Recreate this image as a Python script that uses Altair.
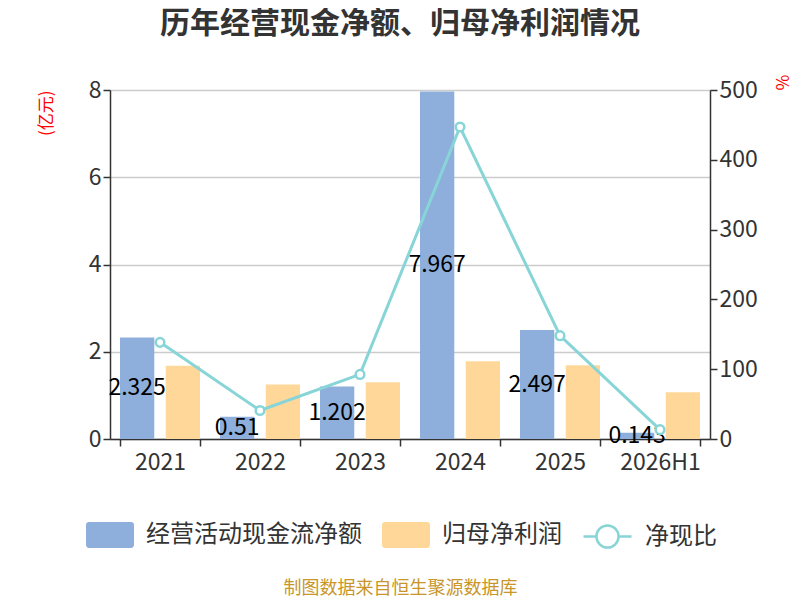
import altair as alt
import pandas as pd

years = ["2021", "2022", "2023", "2024", "2025", "2026H1"]
cash_flow = [2.325, 0.51, 1.202, 7.967, 2.497, 0.143]
net_profit = [1.68, 1.25, 1.30, 1.78, 1.69, 1.07]
ratio = [138.5, 40.8, 92.5, 447.0, 148.0, 13.4]

S1 = "经营活动现金流净额"
S2 = "归母净利润"
S3 = "净现比"

rows = []
for y, c, p in zip(years, cash_flow, net_profit):
    rows.append({"year": y, "series": S1, "value": c})
    rows.append({"year": y, "series": S2, "value": p})
bars_df = pd.DataFrame(rows)
lab_df = pd.DataFrame({"year": years, "series": [S1] * len(years), "value": cash_flow,
                       "label": [f"{v:g}" for v in cash_flow]})
line_df = pd.DataFrame({"year": years, "ratio": ratio, "series": [S3] * len(years)})

FONT = "Noto Sans CJK SC"
BLUE = "#8eaedb"
ORANGE = "#ffd899"
TEAL = "#88d5d8"

rect_path = ("M-0.88,-0.54 H0.88 A0.12,0.12 0 0 1 1,-0.42 V0.42 A0.12,0.12 0 0 1 0.88,0.54 "
             "H-0.88 A0.12,0.12 0 0 1 -1,0.42 V-0.42 A0.12,0.12 0 0 1 -0.88,-0.54 Z")
line_path = ("M-1,0 H-0.46 M0.46,0 H1 M0.46,0 A0.46,0.46 0 1 1 -0.46,0 "
             "A0.46,0.46 0 1 1 0.46,0 Z")

x_enc = alt.X("year:N", sort=years,
              scale=alt.Scale(paddingInner=0.2, paddingOuter=0.1),
              axis=alt.Axis(title="制图数据来自恒生聚源数据库", titleColor="#c8962a",
                            titleFontSize=18, titleFontWeight="normal", titleFont=FONT,
                            titleX=290, titleY=149, titleAlign="center", titleBaseline="middle",
                            labelAngle=0, labelFontSize=23, labelColor="#333333", labelFont=FONT,
                            labelPadding=5, tickBand="extent", tickSize=7, tickColor="#333333",
                            tickWidth=1.5, domainColor="#333333", domainWidth=1.5, grid=False))

y_left = alt.Y("value:Q", scale=alt.Scale(domain=[0, 8], nice=False),
               axis=alt.Axis(title="(亿元)", titleColor="#ff0000", titleFontSize=17,
                             titleFontWeight="normal", titleFont=FONT, titleAnchor="end",
                             titlePadding=33, values=[0, 2, 4, 6, 8], labelFontSize=23,
                             labelColor="#333333", labelFont=FONT, tickSize=7,
                             tickColor="#333333", tickWidth=1.5, domainColor="#333333",
                             domainWidth=1.5, grid=True, gridColor="#cccccc", gridWidth=1.5))

bars = alt.Chart(bars_df).mark_bar().encode(
    x=x_enc,
    xOffset=alt.XOffset("series:N", sort=[S1, S2], scale=alt.Scale(paddingInner=0.25)),
    y=y_left,
    color=alt.Color("series:N", sort=[S1, S2],
                    scale=alt.Scale(domain=[S1, S2], range=[BLUE, ORANGE]),
                    legend=alt.Legend(title=None, orient="none", direction="horizontal",
                                      legendX=-24, legendY=421, symbolType=rect_path,
                                      symbolSize=2304, symbolOpacity=1, symbolStrokeWidth=0,
                                      labelFontSize=24, labelColor="#333333", labelFont=FONT,
                                      labelLimit=400, labelOffset=12, columnPadding=20,
                                      padding=0)),
)

labels = alt.Chart(lab_df).transform_calculate(mid="datum.value / 2").mark_text(
    fontSize=23, font=FONT, color="#000000", baseline="middle", align="center"
).encode(
    x=alt.X("year:N", sort=years),
    xOffset=alt.XOffset("series:N", sort=[S1, S2]),
    y=alt.Y("mid:Q"),
    text="label:N",
)

left = alt.layer(bars, labels)

line = alt.Chart(line_df).mark_line(
    strokeWidth=3,
    point=alt.OverlayMarkDef(filled=False, fill="white", size=75, strokeWidth=2.5),
).encode(
    x=alt.X("year:N", sort=years),
    y=alt.Y("ratio:Q", scale=alt.Scale(domain=[0, 500], nice=False),
            axis=alt.Axis(title="%", orient="right", titleColor="#ff0000", titleFontSize=17,
                          titleFontWeight="normal", titleFont=FONT, titleAnchor="end",
                          titlePadding=14, values=[0, 100, 200, 300, 400, 500],
                          labelFontSize=23, labelColor="#333333", labelFont=FONT, tickSize=7,
                          tickColor="#333333", tickWidth=1.5, domainColor="#333333",
                          domainWidth=1.5, grid=False)),
    stroke=alt.Stroke("series:N", scale=alt.Scale(domain=[S3], range=[TEAL]),
                      legend=alt.Legend(title=None, orient="none", legendX=472, legendY=421,
                                        symbolType=line_path, symbolSize=2304,
                                        symbolFillColor="white", symbolStrokeWidth=2.5,
                                        labelFontSize=24, labelColor="#333333", labelFont=FONT,
                                        labelOffset=12, padding=0)),
)

chart = alt.layer(left, line).resolve_scale(
    y="independent", color="independent", stroke="independent"
).properties(
    width=600,
    height=349,
    padding={"left": 102, "top": 82, "right": 82, "bottom": 161},
    autosize=alt.AutoSizeParams(type="none"),
    title=alt.TitleParams("历年经营现金净额、归母净利润情况", fontSize=30, font=FONT,
                          fontWeight="bold", color="#333333", anchor="middle", dx=-10,
                          frame="group", offset=35),
).configure_view(stroke=None)

chart.save("out.html", embed_options={"renderer": "svg", "actions": False})
